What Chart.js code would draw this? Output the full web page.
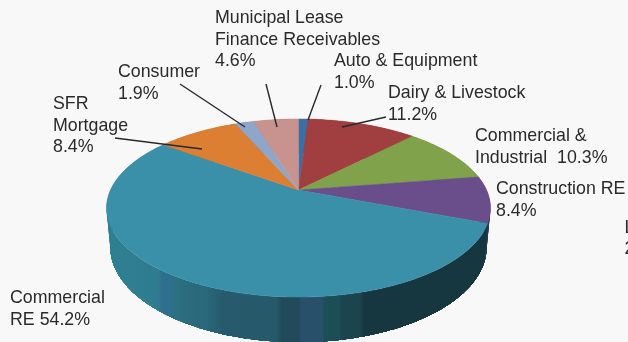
<!DOCTYPE html>
<html>
<head>
<meta charset="utf-8">
<style>
  html, body { margin: 0; padding: 0; background: #f8f8f8; overflow: hidden; }
  canvas { display: block; }
</style>
<script src="https://cdn.jsdelivr.net/npm/chart.js@4"></script>
</head>
<body>
<canvas id="loans" width="628" height="342"></canvas>
<script>
// Loan portfolio composition, percent of total
const categories = ['Auto & Equipment', 'Dairy & Livestock', 'Commercial & Industrial', 'Construction RE',
                    'Commercial RE', 'SFR Mortgage', 'Consumer', 'Municipal Lease Finance Receivables'];
const shares = [1.0, 11.2, 10.3, 8.4, 54.2, 8.4, 1.9, 4.6];
const sliceColors = ['#3c6fa3', '#a13f40', '#7fa24a', '#6a4e8b', '#3a8fa9', '#dc7f33', '#8da6c9', '#c8938f'];

// Callout text, one entry per line of each label
const calloutLines = [
  ['Auto & Equipment', '1.0%'],
  ['Dairy & Livestock', '11.2%'],
  ['Commercial &', 'Industrial  10.3%'],
  ['Construction RE', '8.4%'],
  ['Commercial', 'RE 54.2%'],
  ['SFR', 'Mortgage', '8.4%'],
  ['Consumer', '1.9%'],
  ['Municipal Lease', 'Finance Receivables', '4.6%']
];
const calloutOrigins = [[334, 66], [388, 98], [475, 141], [496, 194], [10, 303], [53, 109], [118, 77], [215, 23]];
const leaderLines = [[321, 85, 308, 120], [386, 117, 342, 127], null, null, null,
                     [115, 138, 202, 149], [180, 84, 245, 127], [266, 84, 277, 127]];

// Tilted disc projection: horizontal and vertical stretch of the chart's radius,
// a perspective term, and the offset and scale of the lower rim of the disc
const tilt = { kx: 1.2533, ky: 0.5693, persp: -0.2022, drop: 38, rimScaleX: 0.98, rimScaleY: 1.067 };
const wallLevels = 16;

// Shaded bands along the visible wall, by pixel column
const wallBands = [[110, '#2f7f92'], [158, '#2f7c90'], [162, '#2e6f8e'], [170, '#2e6f8e'], [174, '#2c7083'],
                   [198, '#29697b'], [204, '#29697b'], [224, '#265a6c'], [276, '#265a6b'], [282, '#224a5a'],
                   [298, '#224a5a'], [302, '#28506a'], [322, '#28506a'], [325, '#1b4f55'], [339, '#1b4f55'],
                   [342, '#1c444e'], [360, '#1c444e'], [364, '#173740'], [490, '#173740']];
const wallBaseColors = ['#2a4f75', '#702c2d', '#5a7334', '#2b3a50', '#173740', '#9b5923', '#637590', '#8c6764'];

// level 0 is the top rim, level 1 the lower rim
function rimPoint(arc, angle, level) {
  const sx = 1 + (tilt.rimScaleX - 1) * level;
  const sy = 1 + (tilt.rimScaleY - 1) * level;
  const d = 1 + tilt.persp * Math.sin(angle);
  return {
    x: arc.x + sx * arc.outerRadius * tilt.kx * Math.cos(angle) / d,
    y: arc.y + tilt.drop * level + sy * arc.outerRadius * tilt.ky * Math.sin(angle) / d
  };
}

function traceRim(ctx, arc, from, to, level, begin) {
  const steps = Math.max(4, Math.ceil(Math.abs(to - from) * 60));
  for (let i = 0; i <= steps; i++) {
    const p = rimPoint(arc, from + (to - from) * i / steps, level);
    if (i === 0 && begin) ctx.moveTo(p.x, p.y); else ctx.lineTo(p.x, p.y);
  }
}

const tiltedDisc = {
  id: 'tiltedDisc',
  beforeDatasetsDraw(chart) {
    const { ctx } = chart;
    const arcs = chart.getDatasetMeta(0).data;

    const shade = ctx.createLinearGradient(106, 0, 490, 0);
    wallBands.forEach(([x, color]) => shade.addColorStop((x - 106) / 384, color));

    // Outer walls first, swept from the lower rim upward so the outline stays
    // tangent to both rims; the top face then covers their far side
    arcs.forEach((arc, i) => {
      ctx.fillStyle = categories[i] === 'Commercial RE' ? shade : wallBaseColors[i];
      for (let n = wallLevels - 1; n >= 0; n--) {
        ctx.beginPath();
        traceRim(ctx, arc, arc.startAngle, arc.endAngle, n / wallLevels, true);
        traceRim(ctx, arc, arc.endAngle, arc.startAngle, 1, false);
        ctx.closePath();
        ctx.fill();
      }
    });

    // Top face
    arcs.forEach((arc, i) => {
      ctx.beginPath();
      ctx.moveTo(arc.x, arc.y);
      traceRim(ctx, arc, arc.startAngle, arc.endAngle, 0, false);
      ctx.closePath();
      ctx.fillStyle = sliceColors[i];
      ctx.fill();
      ctx.strokeStyle = sliceColors[i];
      ctx.lineWidth = 0.5;
      ctx.stroke();
    });

    // Leader lines from the callouts onto their slices
    ctx.strokeStyle = '#25292d';
    ctx.lineWidth = 1.4;
    leaderLines.forEach(line => {
      if (!line) return;
      ctx.beginPath();
      ctx.moveTo(line[0], line[1]);
      ctx.lineTo(line[2], line[3]);
      ctx.stroke();
    });

    // Callout text
    ctx.fillStyle = '#2a2a2a';
    ctx.font = '17.8px "Liberation Sans"';
    ctx.textAlign = 'left';
    ctx.textBaseline = 'alphabetic';
    calloutLines.forEach((lines, i) => {
      const [x, y] = calloutOrigins[i];
      lines.forEach((text, n) => ctx.fillText(text, x, y + n * 21.5));
    });
    // Label running off the right-hand edge
    ctx.fillText('L', 624.5, 233);
    ctx.fillText('2', 624.5, 254);
    return false;
  }
};

new Chart(document.getElementById('loans'), {
  type: 'pie',
  data: {
    labels: categories,
    datasets: [{ data: shares, backgroundColor: sliceColors, borderWidth: 0 }]
  },
  options: {
    responsive: false,
    animation: false,
    layout: { padding: { left: 148.5, right: 179.5, top: 40, bottom: 2 } },
    plugins: { legend: { display: false }, tooltip: { enabled: false } }
  },
  plugins: [tiltedDisc]
});
</script>
</body>
</html>
